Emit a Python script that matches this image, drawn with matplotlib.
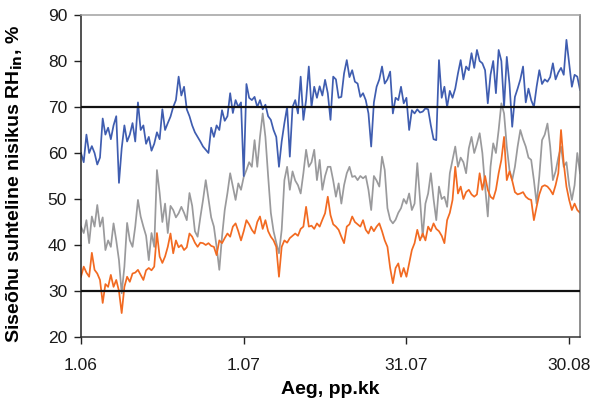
import numpy as np
import matplotlib
matplotlib.use("Agg")
import matplotlib.pyplot as plt

plt.rcParams['font.family'] = ['Liberation Sans', 'DejaVu Sans']

# Half-day readings from 1 June onwards (day offset = index * 0.5)
step_days = 0.5

rh_blue = [
    60, 58, 64, 60, 61.5, 60, 57.5, 59, 67.5, 64, 65.5, 63, 66, 68, 53.5, 61,
    66, 62.5, 64, 66.5, 62.5, 71, 65, 66, 62, 63.5, 60.5, 62, 64.5, 63, 69.5, 65,
    66.5, 67.9, 70, 71.5, 76.6, 72.5, 74.4, 69.5, 68, 66, 64.5, 63.5, 62.5, 61.4, 60.7, 60,
    65.5, 63.5, 66, 65, 69.3, 67, 68, 73, 68.7, 71.5, 70, 71, 55, 75, 72, 71.5,
    72.2, 70, 71.5, 69.5, 70.5, 68, 67.2, 65, 63.5, 57, 62.5, 66.5, 70, 59.2, 70, 71.5,
    68.6, 76.6, 67.2, 71.5, 78.8, 70, 74.4, 72, 74.5, 72.5, 75.9, 73, 67.2, 76.6, 76, 72,
    72.2, 77.3, 80.2, 76.5, 78, 75.5, 75.1, 72.2, 73, 71.5, 68.6, 61.4, 71, 74.4, 76, 78.8,
    75.1, 76, 77.7, 68.6, 72, 71.5, 74.4, 70.8, 72, 65, 69.3, 68.6, 69.5, 68.8, 69, 69.7,
    69.5, 66, 63, 62.8, 80.2, 72, 74.4, 70, 73.5, 72, 74, 77.3, 80.2, 76, 78.8, 78,
    81.7, 78.5, 82.4, 80, 79.5, 78, 70.8, 77, 80, 73, 82.4, 80, 70, 80.9, 75, 65.7,
    72.2, 74, 76, 78.8, 71, 74, 71.5, 70, 74.4, 78, 75, 76, 75.5, 76.5, 79.5, 76,
    77.5, 78.5, 77, 84.6, 79.5, 74.4, 77, 76.6, 73.7,
]

rh_gray = [
    44, 42.6, 45.4, 40.4, 46.2, 44, 48.7, 44, 46, 38.9, 41, 39.6, 44.7, 41, 36.7, 29.5,
    35.3, 44.8, 41, 39.6, 44, 49.8, 46.2, 44, 42, 36.7, 42.6, 39.6, 56.3, 51.3, 45, 49,
    42.6, 48.5, 47.6, 46, 46.9, 48.3, 47, 45.4, 51.3, 48.5, 43, 41.8, 46, 49.8, 54.1, 50,
    46, 44, 39.6, 34.6, 41.8, 47.6, 51.3, 55.6, 52.7, 49.8, 53.4, 52, 54.8, 56.3, 58, 57,
    62.8, 57, 63.5, 68.6, 63.5, 55, 47, 43, 40.5, 38.2, 43.3, 54.1, 57, 52, 56, 54,
    53, 51.2, 55.6, 60.7, 57, 58, 60.7, 54.1, 58.5, 52, 55, 57, 57, 54, 50.5, 53.4,
    49, 53, 55.6, 57, 54.8, 55, 54.1, 55, 54.5, 55, 52, 47.6, 55, 54, 52.7, 59.2,
    56.3, 48, 45.5, 44.7, 45.5, 47, 48, 50, 49, 51.2, 47.6, 49, 57.8, 50, 41.8, 49,
    51.2, 55.6, 50, 45.4, 52.7, 50, 50.5, 48.3, 55.6, 58.5, 61.4, 57, 59, 58, 55.6, 61,
    63.5, 60, 62, 64.3, 60, 52.7, 46.2, 57, 62.1, 60, 65, 70.8, 68.6, 61.4, 56.3, 54.1,
    57, 61.4, 65, 63, 61.4, 59, 58.5, 54.1, 49, 55, 62.8, 64, 66.4, 61.4, 54.1, 56,
    59, 61.4, 57, 58, 53, 49.8, 53, 60, 55.6,
]

rh_orange = [
    33.1, 35.3, 34, 33.1, 38.3, 34.6, 33.8, 32.4, 27.4, 31.5, 30.9, 33.5, 30.9, 32.4, 30, 25.2,
    30.9, 33.1, 32, 33.8, 34, 34.6, 33.5, 32.4, 34.5, 35, 34.5, 35.3, 42.6, 37.5, 36.1, 37.5,
    39.6, 42.5, 38.2, 41, 39.5, 40, 38.9, 39.5, 42.5, 41.8, 40.5, 39.6, 40.5, 40.4, 40, 40.4,
    39.8, 39.6, 37.8, 41, 40.4, 41.5, 42.5, 41.8, 44, 44.7, 43, 41, 43, 45.4, 44.5, 43.3,
    42.5, 45, 46.2, 43.5, 45.4, 43, 41.8, 41, 39.6, 33.1, 39.6, 41, 40.5, 41.5, 42, 42.5,
    42, 43.5, 44, 48.3, 44, 44.2, 43.5, 44.7, 44, 45.5, 46.9, 50.5, 46.5, 44.5, 44, 43.3,
    41.8, 40.4, 44, 44.5, 46.2, 45, 44.5, 44, 45.4, 43.3, 42.5, 44, 43, 44, 44.7, 43,
    41, 39.6, 35, 31.7, 35, 36, 33.1, 35, 33.1, 36, 38.9, 40.4, 43.3, 41, 42.5, 41,
    44, 43, 44.7, 43.5, 43, 42, 40.4, 45.4, 47, 49.8, 57, 51.2, 52.7, 50, 51.5, 52,
    51, 50.5, 51, 55.6, 52, 55, 52, 50.5, 50, 52, 55.6, 58.5, 63.5, 54.1, 56, 54,
    51.5, 51, 51.2, 51.5, 50.5, 50, 49.8, 45.4, 48.3, 51, 52.7, 53, 52.7, 52, 51, 53,
    55.6, 65, 57.8, 52.7, 49.8, 47.6, 49, 47.6, 47,
]

tick_days = [0, 30, 60, 90]
tick_labels = ["1.06", "1.07", "31.07", "30.08"]
limit_levels = [30, 70]

series = [
    (rh_gray, "#9a9a9c"),
    (rh_orange, "#f26a21"),
    (rh_blue, "#3f5db0"),
]

fig = plt.figure(figsize=(6.02, 4.05), dpi=100)
ax = fig.add_axes([81 / 602, 68 / 405, 499 / 602, 322 / 405])

for values, color in series:
    days = np.arange(len(values)) * step_days
    ax.plot(days, values, color=color, lw=1.25, zorder=2)

for level in limit_levels:
    ax.axhline(level, color="#111111", lw=1.6, zorder=4)

ax.set_xlim(0, 92)
ax.set_ylim(20, 90)
ax.set_xticks(tick_days)
ax.set_xticklabels(tick_labels)
ax.set_yticks(np.arange(20, 91, 10))

ax.tick_params(axis="both", direction="out", length=5, width=1,
               colors="#222222", labelsize=12.5, labelcolor="#1a1a1a")
ax.tick_params(axis="x", pad=10)
ax.tick_params(axis="y", pad=5)

ax.spines["left"].set_color("#222222")
ax.spines["bottom"].set_color("#333333")
ax.spines["top"].set_color("#a0a0a0")
ax.spines["right"].set_color("#707070")
for sp in ax.spines.values():
    sp.set_linewidth(1.1)

ax.set_xlabel("Aeg, pp.kk", fontsize=14, fontweight="bold", labelpad=6)
ax.set_ylabel(r"Siseõhu suhteline nisikus RH$_{\mathbf{in}}$, %", fontsize=14,
              fontweight="bold")
ax.yaxis.set_label_coords(-0.112, 0.475)

fig.savefig("out.png", dpi=100)
